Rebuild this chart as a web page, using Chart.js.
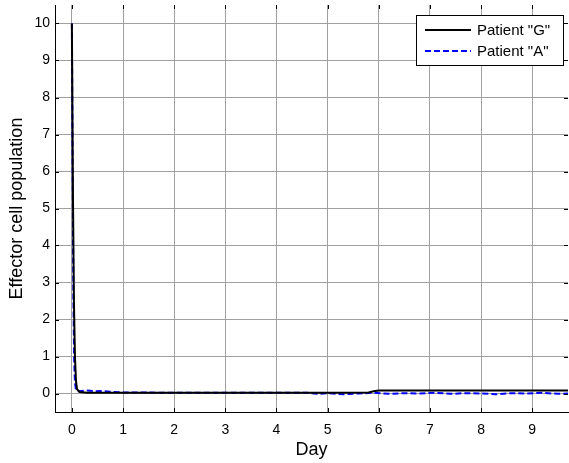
<!DOCTYPE html>
<html>
<head>
<meta charset="utf-8">
<script src="https://cdn.jsdelivr.net/npm/chart.js@4/dist/chart.umd.min.js"></script>
<style>
  html, body { margin: 0; padding: 0; background: #fff; }
  #wrap { width: 569px; height: 463px; }
</style>
</head>
<body>
<div id="wrap"><canvas id="chart" width="569" height="463"></canvas></div>
<script>
// values
const xTicks = [0, 1, 2, 3, 4, 5, 6, 7, 8, 9];
const yTicks = [0, 1, 2, 3, 4, 5, 6, 7, 8, 9, 10];

// Patient "G"
const daysG = [0, 0.02, 0.04, 0.06, 0.08, 0.1, 0.15, 0.3, 1, 2, 3, 4, 5, 5.8, 5.9, 6.0, 7, 8, 9, 9.7];
const cellsG = [10, 5.5, 2.5, 1.0, 0.35, 0.12, 0.04, 0.02, 0.02, 0.02, 0.02, 0.02, 0.02, 0.03, 0.06, 0.08, 0.08, 0.08, 0.08, 0.08];

// Patient "A"
const daysA = [0, 0.015, 0.03, 0.045, 0.06, 0.08, 0.1, 0.2, 0.3, 0.45, 0.6, 0.8, 1.0, 2, 3, 4, 4.6, 4.8, 5.0, 5.3, 5.6, 5.9, 6.2, 6.5, 6.8, 7.1, 7.4, 7.7, 8.0, 8.3, 8.6, 8.9, 9.2, 9.5, 9.7];
const cellsA = [10, 6.0, 2.6, 0.9, 0.3, 0.1, 0.06, 0.07, 0.08, 0.06, 0.07, 0.04, 0.03, 0.02, 0.02, 0.02, 0.02, -0.01, 0.01, -0.02, 0.0, 0.02, -0.01, 0.01, 0.0, 0.02, -0.01, 0.01, 0.0, -0.02, 0.01, 0.0, 0.02, -0.01, 0.0];

const seriesNames = ['Patient "G"', 'Patient "A"'];

const FONT = '"Liberation Sans", Arial, sans-serif';

const toPoints = (xs, ys) => xs.map((x, i) => ({ x: x, y: ys[i] }));

// inward tick marks on all four sides, matlab style
const tickMarks = {
  id: 'tickMarks',
  afterDatasetsDraw(chart) {
    const { ctx, chartArea: a, scales } = chart;
    ctx.save();
    ctx.strokeStyle = '#000';
    ctx.lineWidth = 1;
    ctx.beginPath();
    xTicks.forEach((v) => {
      const px = Math.round(scales.x.getPixelForValue(v)) + 0.5;
      ctx.moveTo(px, a.bottom); ctx.lineTo(px, a.bottom - 4);
      ctx.moveTo(px, a.top); ctx.lineTo(px, a.top + 4);
    });
    yTicks.forEach((v) => {
      const py = Math.round(scales.y.getPixelForValue(v)) + 0.5;
      ctx.moveTo(a.left, py); ctx.lineTo(a.left + 4, py);
      ctx.moveTo(a.right, py); ctx.lineTo(a.right - 4, py);
    });
    ctx.stroke();
    ctx.restore();
  }
};

// boxed legend in the top right corner
const boxLegend = {
  id: 'boxLegend',
  afterDraw(chart) {
    const { ctx } = chart;
    const left = 416, top = 15, w = 147, h = 50;
    ctx.save();
    ctx.fillStyle = '#fff';
    ctx.fillRect(left, top, w, h);
    ctx.strokeStyle = '#000';
    ctx.lineWidth = 1;
    ctx.strokeRect(left + 0.5, top + 0.5, w, h);
    ctx.font = '15px ' + FONT;
    ctx.textBaseline = 'middle';
    chart.data.datasets.forEach((ds, i) => {
      const y = top + 15 + i * 21;
      ctx.strokeStyle = ds.borderColor;
      ctx.lineWidth = 2;
      ctx.setLineDash(ds.borderDash || []);
      ctx.beginPath();
      ctx.moveTo(left + 9, y);
      ctx.lineTo(left + 55, y);
      ctx.stroke();
      ctx.setLineDash([]);
      ctx.fillStyle = '#000';
      ctx.fillText(ds.label, left + 61, y + 1);
    });
    ctx.restore();
  }
};

new Chart(document.getElementById('chart'), {
  type: 'scatter',
  data: {
    datasets: [
      {
        label: seriesNames[0],
        data: toPoints(daysG, cellsG),
        showLine: true,
        borderColor: '#000000',
        borderWidth: 2,
        pointRadius: 0,
        tension: 0
      },
      {
        label: seriesNames[1],
        data: toPoints(daysA, cellsA),
        showLine: true,
        borderColor: '#0000ff',
        borderWidth: 2,
        borderDash: [6, 3],
        pointRadius: 0,
        tension: 0
      }
    ]
  },
  options: {
    responsive: false,
    animation: false,
    devicePixelRatio: 1,
    layout: { padding: { top: 5, right: 1, left: 0, bottom: 0 } },
    plugins: {
      legend: { display: false },
      tooltip: { enabled: false }
    },
    scales: {
      x: {
        type: 'linear',
        min: -0.33,
        max: 9.7,
        afterBuildTicks: (s) => { s.ticks = xTicks.map((v) => ({ value: v })); },
        afterFit: (s) => { s.height = 51; s.paddingLeft = 0; s.paddingRight = 0; },
        grid: { color: '#a0a0a0', drawTicks: false },
        border: { color: '#000', width: 1 },
        ticks: { color: '#000', padding: 10, font: { family: FONT, size: 14 }, maxRotation: 0 },
        title: {
          display: true,
          text: 'Day',
          color: '#000',
          font: { family: FONT, size: 18 },
          padding: { top: 0, bottom: 2 }
        }
      },
      y: {
        type: 'linear',
        min: -0.5,
        max: 10.5,
        afterBuildTicks: (s) => { s.ticks = yTicks.map((v) => ({ value: v })); },
        afterFit: (s) => { s.width = 55; s.paddingTop = 0; s.paddingBottom = 0; },
        grid: { color: '#a0a0a0', drawTicks: false },
        border: { color: '#000', width: 1 },
        ticks: { color: '#000', padding: 5, font: { family: FONT, size: 14 } },
        title: {
          display: true,
          text: 'Effector cell population',
          color: '#000',
          font: { family: FONT, size: 18 },
          padding: { top: 6, bottom: 0 }
        }
      }
    }
  },
  plugins: [tickMarks, boxLegend]
});
</script>
</body>
</html>
